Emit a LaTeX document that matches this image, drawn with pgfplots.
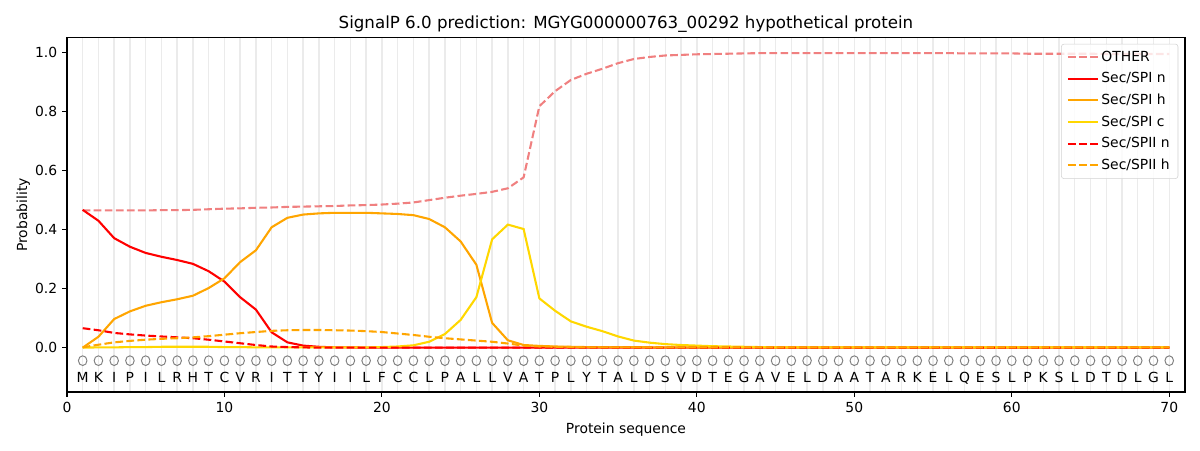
\documentclass[border=0pt]{standalone}
\usepackage{pgfplots}
\usepackage{pgfplotstable}
\pgfplotsset{compat=1.18}
\usepackage{fontspec}
\setmainfont{DejaVu Sans}
\definecolor{lcoral}{HTML}{F08080}
\definecolor{mred}{HTML}{FF0000}
\definecolor{morange}{HTML}{FFA500}
\definecolor{mgold}{HTML}{FFD700}
\definecolor{gridc}{HTML}{EBEBEB}
\pgfplotstableread{
x other spin spih spic spiin spiih aa
1 0.465 0.467 0.000 0.000 0.066 0.001 M
2 0.465 0.430 0.037 0.001 0.059 0.010 K
3 0.465 0.371 0.097 0.001 0.050 0.018 I
4 0.465 0.342 0.123 0.002 0.045 0.023 P
5 0.465 0.321 0.142 0.002 0.041 0.027 I
6 0.466 0.308 0.154 0.003 0.038 0.030 L
7 0.466 0.297 0.164 0.003 0.035 0.032 R
8 0.467 0.284 0.176 0.003 0.032 0.035 H
9 0.469 0.259 0.202 0.003 0.027 0.039 T
10 0.471 0.224 0.235 0.002 0.021 0.044 C
11 0.472 0.171 0.290 0.002 0.015 0.049 V
12 0.474 0.129 0.330 0.001 0.009 0.053 R
13 0.475 0.052 0.408 0.001 0.004 0.057 I
14 0.477 0.018 0.440 0.001 0.002 0.059 T
15 0.478 0.007 0.451 0.001 0.001 0.060 T
16 0.479 0.003 0.455 0.001 0.000 0.060 Y
17 0.480 0.001 0.457 0.001 0.000 0.059 I
18 0.482 0.001 0.457 0.001 0.000 0.058 I
19 0.483 0.000 0.457 0.001 0.000 0.056 L
20 0.485 0.000 0.455 0.002 0.000 0.053 F
21 0.488 0.000 0.453 0.004 0.000 0.048 C
22 0.492 0.000 0.449 0.008 0.000 0.043 C
23 0.500 0.000 0.436 0.020 0.000 0.037 L
24 0.508 0.000 0.408 0.046 0.000 0.032 P
25 0.515 0.000 0.360 0.094 0.000 0.028 A
26 0.521 0.000 0.281 0.171 0.000 0.024 L
27 0.528 0.000 0.084 0.367 0.000 0.020 L
28 0.540 0.000 0.025 0.417 0.000 0.014 V
29 0.577 0.000 0.009 0.402 0.000 0.007 A
30 0.818 0.000 0.006 0.167 0.000 0.004 T
31 0.869 0.000 0.004 0.125 0.000 0.003 P
32 0.907 0.000 0.003 0.089 0.000 0.002 L
33 0.928 0.000 0.002 0.071 0.000 0.001 Y
34 0.945 0.000 0.002 0.056 0.000 0.001 T
35 0.964 0.000 0.002 0.038 0.000 0.001 A
36 0.978 0.000 0.002 0.024 0.000 0.001 L
37 0.985 0.000 0.001 0.017 0.000 0.001 D
38 0.990 0.000 0.001 0.012 0.000 0.001 S
39 0.992 0.000 0.001 0.009 0.000 0.001 V
40 0.994 0.000 0.001 0.007 0.000 0.001 D
41 0.995 0.000 0.001 0.005 0.000 0.001 T
42 0.996 0.000 0.001 0.004 0.000 0.001 E
43 0.997 0.000 0.001 0.003 0.000 0.001 G
44 0.998 0.000 0.001 0.002 0.000 0.001 A
45 0.998 0.000 0.001 0.001 0.000 0.001 V
46 0.998 0.000 0.001 0.001 0.000 0.001 E
47 0.998 0.000 0.001 0.001 0.000 0.001 L
48 0.998 0.000 0.001 0.001 0.000 0.001 D
49 0.998 0.000 0.001 0.001 0.000 0.001 A
50 0.998 0.000 0.001 0.001 0.000 0.001 A
51 0.998 0.000 0.001 0.001 0.000 0.001 T
52 0.998 0.000 0.001 0.001 0.000 0.001 A
53 0.998 0.000 0.001 0.001 0.000 0.001 R
54 0.998 0.000 0.001 0.001 0.000 0.001 K
55 0.998 0.000 0.001 0.001 0.000 0.001 E
56 0.998 0.000 0.001 0.001 0.000 0.001 L
57 0.997 0.000 0.001 0.001 0.000 0.001 Q
58 0.997 0.000 0.001 0.001 0.000 0.001 E
59 0.997 0.000 0.001 0.001 0.000 0.001 S
60 0.997 0.000 0.001 0.001 0.000 0.001 L
61 0.996 0.000 0.001 0.001 0.000 0.001 P
62 0.996 0.000 0.001 0.001 0.000 0.001 K
63 0.996 0.000 0.001 0.001 0.000 0.001 S
64 0.996 0.000 0.001 0.001 0.000 0.001 L
65 0.996 0.000 0.001 0.001 0.000 0.001 D
66 0.995 0.000 0.001 0.001 0.000 0.001 T
67 0.995 0.000 0.001 0.001 0.000 0.001 D
68 0.995 0.000 0.001 0.001 0.000 0.001 L
69 0.995 0.000 0.001 0.001 0.000 0.001 G
70 0.995 0.000 0.001 0.001 0.000 0.001 L
}\datatable
\begin{document}
\begin{tikzpicture}
\path[use as bounding box] (0,0) rectangle (864pt,324pt);
\begin{axis}[
  at={(48.2pt,41.8pt)}, anchor=south west,
  scale only axis, width=805pt, height=255pt,
  xmin=0, xmax=71, ymin=-0.15, ymax=1.05,
  xtick={0,10,...,70},
  ytick={0,0.2,...,1.0},
  minor xtick={1,...,70},
  minor tick length=0pt,
  xminorgrids=true,
  minor grid style={gridc, line width=1pt},
  tick align=outside, major tick length=3.5pt,
  tick style={black, line width=0.8pt},
  axis line style={line width=0.8pt},
  xtick pos=bottom, ytick pos=left,
  /pgf/number format/assume math mode=true,
  yticklabel style={/pgf/number format/fixed, /pgf/number format/fixed zerofill, /pgf/number format/precision=1},
  xticklabel style={/pgf/number format/fixed},
  ticklabel style={font=\fontsize{10}{12}\selectfont},
  title={SignalP 6.0 prediction: MGYG000000763\_00292 hypothetical protein},
  title style={font=\fontsize{12}{14}\selectfont, at={(0.5,1)}, anchor=south, yshift=-6pt},
  xlabel={Protein sequence},
  ylabel={Probability},
  label style={font=\fontsize{10}{12}\selectfont},
  xlabel style={at={(0.5,0)}, anchor=north, yshift=-19pt},
  ylabel style={at={(0,0.5)}, anchor=south, yshift=23pt},
  legend style={at={(0.994,0.983)}, anchor=north east, draw=gray!35, rounded corners=2pt,
    fill=white, fill opacity=0.8, text opacity=1, font=\fontsize{10}{12}\selectfont,
    row sep=2.6pt, inner xsep=4pt, inner ysep=3pt},
  legend cell align=left,
  legend image code/.code={\draw[#1] (0cm,0cm) -- (0.75cm,0cm);},
  every axis plot/.append style={line width=1.5pt},
]
\addplot[only marks, mark=o, mark size=3.5pt, gray, line width=0.7pt, mark options={xscale=0.88}, forget plot] table[x=x, y expr=-0.044] {\datatable};
\addplot[draw=none, mark=none, forget plot, nodes near coords, point meta=explicit symbolic,
  every node near coord/.style={anchor=center, font=\fontsize{10}{12}\selectfont, text=black, inner sep=0pt}]
  table[x=x, y expr=-0.102, meta=aa] {\datatable};
\addplot[lcoral, dash pattern=on 5.55pt off 2.4pt] table[x=x, y=other] {\datatable};
\addplot[mred] table[x=x, y=spin] {\datatable};
\addplot[morange] table[x=x, y=spih] {\datatable};
\addplot[mgold] table[x=x, y=spic] {\datatable};
\addplot[mred, dash pattern=on 5.55pt off 2.4pt] table[x=x, y=spiin] {\datatable};
\addplot[morange, dash pattern=on 5.55pt off 2.4pt] table[x=x, y=spiih] {\datatable};
\legend{OTHER, Sec/SPI n, Sec/SPI h, Sec/SPI c, Sec/SPII n, Sec/SPII h}
\end{axis}
\end{tikzpicture}
\end{document}
